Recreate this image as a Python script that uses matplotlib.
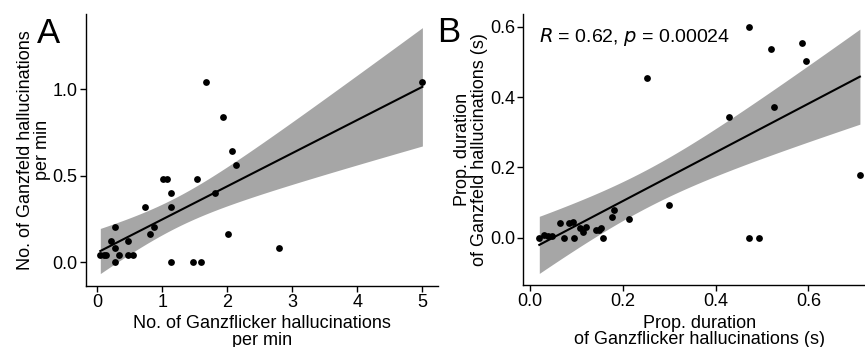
import numpy as np
import matplotlib
matplotlib.use('Agg')
import matplotlib.pyplot as plt

plt.rcParams['font.family'] = ['Liberation Sans', 'DejaVu Sans']

# panel A: hallucinations per min
a_x = [0.05, 0.10, 0.14, 0.27, 0.27, 0.21, 0.27, 0.34, 0.48, 0.48, 0.55,
       0.74, 0.81, 0.88, 1.01, 1.07, 1.14, 1.14, 1.14, 1.47, 1.54, 1.60,
       1.67, 1.81, 1.94, 2.01, 2.07, 2.14, 2.80, 5.00]
a_y = [0.04, 0.04, 0.04, 0.00, 0.20, 0.12, 0.08, 0.04, 0.12, 0.04, 0.04,
       0.32, 0.16, 0.20, 0.48, 0.48, 0.40, 0.32, 0.00, 0.00, 0.48, 0.00,
       1.04, 0.40, 0.84, 0.16, 0.64, 0.56, 0.08, 1.04]

# panel B: proportion of time hallucinating
b_x = [0.020, 0.031, 0.038, 0.047, 0.065, 0.074, 0.085, 0.093, 0.095, 0.108,
       0.114, 0.120, 0.142, 0.149, 0.152, 0.158, 0.176, 0.181, 0.213, 0.300,
       0.252, 0.428, 0.473, 0.473, 0.494, 0.519, 0.525, 0.587, 0.594, 0.711]
b_y = [0.000, 0.007, 0.005, 0.005, 0.042, 0.000, 0.042, 0.045, 0.000, 0.028,
       0.017, 0.030, 0.022, 0.022, 0.028, 0.000, 0.060, 0.079, 0.053, 0.093,
       0.455, 0.343, 0.600, 0.000, 0.000, 0.536, 0.371, 0.553, 0.502, 0.178]


def fit_band(ax, x, y):
    x = np.asarray(x)
    y = np.asarray(y)
    n = len(x)
    slope, icpt = np.polyfit(x, y, 1)
    xs = np.linspace(x.min(), x.max(), 100)
    fit = icpt + slope * xs
    resid = y - (icpt + slope * x)
    s = np.sqrt(np.sum(resid ** 2) / (n - 2))
    se = s * np.sqrt(1 / n + (xs - x.mean()) ** 2 / np.sum((x - x.mean()) ** 2))
    t = 2.048
    ax.fill_between(xs, fit - t * se, fit + t * se, color='#a6a6a6', lw=0, zorder=1)
    ax.plot(xs, fit, color='black', lw=1.5, zorder=2)
    ax.scatter(x, y, s=24, color='black', lw=0, zorder=3)


def style(ax):
    for sp in ['top', 'right']:
        ax.spines[sp].set_visible(False)
    for sp in ['left', 'bottom']:
        ax.spines[sp].set_linewidth(1.0)
    ax.tick_params(labelsize=13, length=4, width=1.0, pad=2, colors='black')


W, H = 865, 347
fig = plt.figure(figsize=(W / 100, H / 100), dpi=100)

# panel A
ax1 = fig.add_axes([86 / W, 1 - 285.7 / H, (438 - 86) / W, (285.7 - 14) / H])
fit_band(ax1, a_x, a_y)
ax1.set_xlim(-0.17, 5.24)
ax1.set_ylim(-0.137, 1.434)
ax1.set_xticks([0, 1, 2, 3, 4, 5])
ax1.set_yticks([0.0, 0.5, 1.0])
ax1.set_yticklabels(['0.0', '0.5', '1.0'])
style(ax1)
ax1.set_xlabel('No. of Ganzflicker hallucinations\nper min', fontsize=13,
               linespacing=1.0, labelpad=3)
ax1.set_ylabel('No. of Ganzfeld hallucinations\nper min', fontsize=13,
               linespacing=1.05, labelpad=1)
fig.text(37 / W, 1 - 43 / H, 'A', fontsize=25, ha='left', va='baseline')

# panel B
ax2 = fig.add_axes([523.3 / W, 1 - 285 / H, (530 + 0.746 * 464 - 523.3) / W, (285 - 14) / H])
fit_band(ax2, b_x, b_y)
ax2.set_xlim(-0.0145, 0.746)
ax2.set_ylim(-0.134, 0.636)
ax2.set_xticks([0.0, 0.2, 0.4, 0.6])
ax2.set_xticklabels(['0.0', '0.2', '0.4', '0.6'])
ax2.set_yticks([0.0, 0.2, 0.4, 0.6])
ax2.set_yticklabels(['0.0', '0.2', '0.4', '0.6'])
style(ax2)
ax2.set_xlabel('Prop. duration\nof Ganzflicker hallucinations (s)', fontsize=13,
               linespacing=1.0, labelpad=3)
ax2.set_ylabel('Prop. duration\nof Ganzfeld hallucinations (s)', fontsize=13,
               linespacing=1.05, labelpad=1)
ax2.text(0.02, 0.57, r'$R$ = 0.62, $p$ = 0.00024', fontsize=14, va='center', ha='left')
fig.text(437 / W, 1 - 42 / H, 'B', fontsize=25, ha='left', va='baseline')

fig.savefig('out.png', dpi=100)
